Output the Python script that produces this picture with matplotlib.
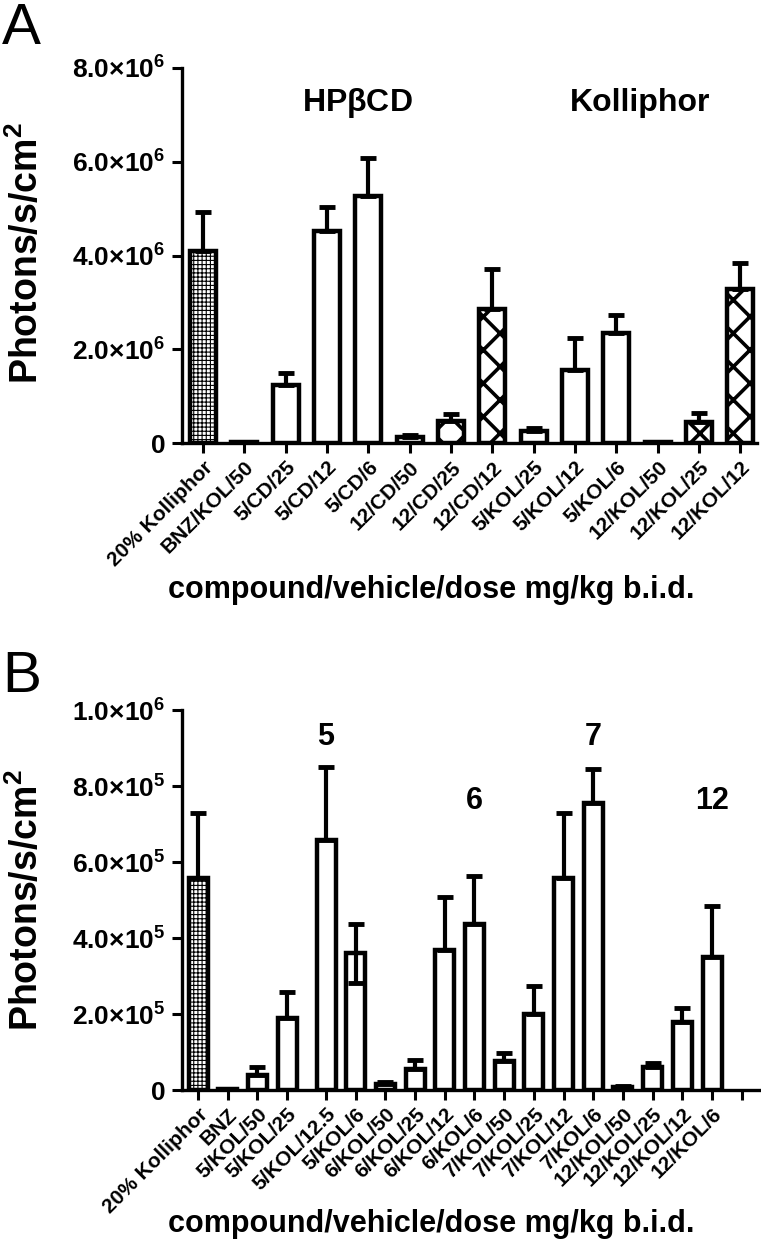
import matplotlib
matplotlib.use('Agg')
import matplotlib.pyplot as plt
import numpy as np
from matplotlib import font_manager as fm

names = {f.name for f in fm.fontManager.ttflist}
FONT = 'Liberation Sans' if 'Liberation Sans' in names else 'DejaVu Sans'
NARROW = 'Liberation Sans Narrow' if 'Liberation Sans Narrow' in names else FONT
plt.rcParams['font.family'] = [FONT, 'DejaVu Sans']
plt.rcParams['font.weight'] = 'bold'
plt.rcParams['mathtext.fontset'] = 'custom'
plt.rcParams['mathtext.rm'] = FONT + ':bold'
plt.rcParams['mathtext.bf'] = FONT + ':bold'
plt.rcParams['mathtext.it'] = FONT + ':bold'

# ---- panel A data ----
A_labels = ['20% Kolliphor', 'BNZ/KOL/50', '5/CD/25', '5/CD/12', '5/CD/6',
            '12/CD/50', '12/CD/25', '12/CD/12', '5/KOL/25', '5/KOL/12',
            '5/KOL/6', '12/KOL/50', '12/KOL/25', '12/KOL/12']
A_means = [4.10e6, 0.02e6, 1.23e6, 4.53e6, 5.28e6,
           0.12e6, 0.48e6, 2.86e6, 0.26e6, 1.55e6,
           2.35e6, 0.03e6, 0.44e6, 3.28e6]
A_err = [0.82e6, 0.0, 0.27e6, 0.50e6, 0.80e6,
         0.06e6, 0.13e6, 0.86e6, 0.07e6, 0.70e6,
         0.38e6, 0.0, 0.19e6, 0.57e6]
A_fill = ['check', 'open', 'open', 'open', 'open',
          'open', 'cross', 'cross', 'open', 'open',
          'open', 'open', 'cross', 'cross']
A_groups = ['HP$\\mathbf{\\beta}$CD', 'Kolliphor']

# ---- panel B data ----
B_labels = ['20% Kolliphor', 'BNZ', '5/KOL/50', '5/KOL/25', '5/KOL/12.5', '5/KOL/6',
            '6/KOL/50', '6/KOL/25', '6/KOL/12', '6/KOL/6',
            '7/KOL/50', '7/KOL/25', '7/KOL/12', '7/KOL/6',
            '12/KOL/50', '12/KOL/25', '12/KOL/12', '12/KOL/6']
B_means = [5.58e5, 0.03e5, 0.39e5, 1.90e5, 6.58e5, 3.60e5,
           0.16e5, 0.56e5, 3.68e5, 4.38e5,
           0.76e5, 1.99e5, 5.58e5, 7.55e5,
           0.09e5, 0.60e5, 1.78e5, 3.50e5]
B_err = [1.70e5, 0.0, 0.22e5, 0.67e5, 1.92e5, 0.78e5,
         0.04e5, 0.23e5, 1.40e5, 1.25e5,
         0.22e5, 0.74e5, 1.70e5, 0.90e5,
         0.02e5, 0.12e5, 0.37e5, 1.34e5]
B_err_low = [0, 0, 0, 0, 0, 0.79e5,
             0, 0, 0, 0, 0, 0, 0, 0, 0, 0, 0, 0]
B_fill = ['check'] + ['open'] * 17
B_groups = ['5', '6', '7', '12']

W, H = 761, 1250
fig = plt.figure(figsize=(W / 100, H / 100), dpi=100)

EDGE = 3.2
HATCH = {'check': '++++', 'cross': 'x', 'open': ''}
HATCH_LW = {'check': 0.8, 'cross': 2.6, 'open': 1.0}


def draw(ax, x, means, err, fills, width, err_low=None):
    for kind in ['open', 'check', 'cross']:
        idx = [i for i, f in enumerate(fills) if f == kind]
        if not idx:
            continue
        plt.rcParams['hatch.linewidth'] = HATCH_LW[kind]
        bars = ax.bar(x[idx], np.array(means)[idx], width, color='white',
                      edgecolor='black', linewidth=EDGE, hatch=HATCH[kind],
                      zorder=2)
        for b in bars:
            try:
                b.set_hatch_linewidth(HATCH_LW[kind])
            except AttributeError:
                pass
    low = np.zeros(len(means)) if err_low is None else np.array(err_low)
    ax.errorbar(x, means, yerr=[low, err], fmt='none', ecolor='black',
                elinewidth=3.0, capsize=5.5, capthick=3.5, zorder=3)


def style(ax):
    for s in ['top', 'right']:
        ax.spines[s].set_visible(False)
    for s in ['left', 'bottom']:
        ax.spines[s].set_linewidth(2.4)
    ax.tick_params(axis='both', direction='out', length=7, width=2.2)
    ax.tick_params(axis='y', labelsize=19, pad=5)


# ---------------- panel A ----------------
axA = fig.add_axes([182 / W, 1 - 443 / H, (757 - 182) / W, (443 - 68) / H])
xA = np.arange(len(A_labels))
draw(axA, xA, A_means, A_err, A_fill, 0.63)
axA.set_xlim(-0.51, 13.4)
axA.set_ylim(0, 8e6)
axA.set_yticks([0, 2e6, 4e6, 6e6, 8e6])
axA.set_yticklabels(['0'] + [f'${v:.1f}{{\\times}}10^{{6}}$' for v in [2, 4, 6, 8]])
axA.set_xticks(xA)
axA.set_xticklabels(A_labels, rotation=45, ha='right', va='top',
                    rotation_mode='anchor', fontsize=15, family=NARROW)
style(axA)
axA.text(3.73, 7.25e6, A_groups[0], ha='center', va='center', fontsize=23)
axA.text(10.58, 7.25e6, A_groups[1], ha='center', va='center', fontsize=23)

# ---------------- panel B ----------------
axB = fig.add_axes([182 / W, 1 - 1090 / H, (761 - 182) / W, (1090 - 710) / H])
xB_all = np.arange(len(B_labels) + 1, dtype=float)
xB_all[4:] += 0.31
xB = xB_all[:len(B_labels)]
draw(axB, xB, B_means, B_err, B_fill, 0.64, B_err_low)
axB.set_xlim(-0.54, 18.96)
axB.set_ylim(0, 1e6)
axB.set_yticks([0, 2e5, 4e5, 6e5, 8e5, 1e6])
axB.set_yticklabels(['0'] + [f'${v:.1f}{{\\times}}10^{{5}}$' for v in [2, 4, 6, 8]]
                    + ['$1.0{\\times}10^{6}$'])
axB.set_xticks(xB_all)
axB.set_xticklabels(B_labels + [''], rotation=45, ha='right', va='top',
                    rotation_mode='anchor', fontsize=15, family=NARROW)
style(axB)
grp_x = [xB[4], xB[9], xB[13], xB[17]]
grp_y = [9.3e5, 7.6e5, 9.3e5, 7.6e5]
for gx, gy, g in zip(grp_x, grp_y, B_groups):
    axB.text(gx, gy, g, ha='center', va='center', fontsize=22)

# ---------------- figure texts ----------------
fig.text(2 / W, 1 - 2 / H, 'A', ha='left', va='top', fontsize=42, fontweight='normal')
fig.text(2 / W, 1 - 650 / H, 'B', ha='left', va='top', fontsize=42, fontweight='normal')
ylab = 'Photons/s/cm$^{2}$'
fig.text(27 / W, 1 - 253 / H, ylab, rotation=90, ha='center', va='center', fontsize=27)
fig.text(27 / W, 1 - 900 / H, ylab, rotation=90, ha='center', va='center', fontsize=27)
xlab = 'compound/vehicle/dose mg/kg b.i.d.'
fig.text(431 / W, 1 - 590 / H, xlab, ha='center', va='center', fontsize=22)
fig.text(431 / W, 1 - 1224 / H, xlab, ha='center', va='center', fontsize=22)

fig.savefig('out.png', dpi=100)
